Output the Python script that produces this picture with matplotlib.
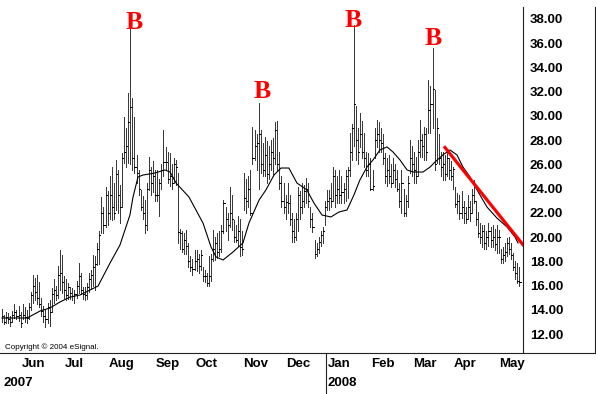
import matplotlib
matplotlib.use("Agg")
import matplotlib.pyplot as plt
from matplotlib.lines import Line2D
import numpy as np

# ---------------- data (daily bars, May-2007 .. May-2008) ----------------
months = ["Jun", "Jul", "Aug", "Sep", "Oct", "Nov", "Dec", "Jan", "Feb", "Mar", "Apr", "May"]
bars_per_month = [10, 21, 21, 23, 19, 23, 21, 20, 21, 20, 20, 22, 10]   # first = late May 2007
years = ["2007", "2008"]

highs = [
    14.1,13.6,13.8,13.7,13.5,13.9,14.5,14.0,14.3,13.8,
    14.5,14.2,14.0,14.6,15.5,16.9,16.6,16.9,16.3,15.0,14.3,14.0,14.6,14.8,15.8,16.5,16.0,17.6,18.9,18.5,16.8,
    16.5,16.2,15.9,15.8,15.6,16.4,17.9,17.0,15.9,15.9,16.2,17.0,17.3,18.5,18.4,19.5,20.5,23.3,22.5,24.1,23.8,
    25.0,25.8,24.5,26.4,25.5,24.3,26.9,29.9,29.0,31.9,37.5,31.5,29.9,26.8,25.5,23.9,23.4,23.1,24.5,26.6,25.8,26.3,25.5,
    25.5,24.8,26.0,28.8,27.4,27.0,26.9,26.0,26.5,26.4,25.3,20.7,20.5,20.3,20.6,19.5,18.4,18.2,18.9,
    18.9,18.6,18.9,17.5,17.3,17.0,18.4,18.6,20.6,20.0,20.3,20.5,21.0,23.1,22.5,22.0,24.1,23.5,21.4,21.0,21.7,21.5,20.5,
    25.3,24.8,25.0,25.5,29.1,28.8,28.5,31.1,28.8,27.8,28.3,27.9,27.5,28.0,28.2,29.5,29.6,27.0,25.0,24.5,23.5,
    24.5,23.5,22.0,21.5,22.0,24.1,23.8,24.5,24.3,24.9,24.5,22.5,22.0,19.8,19.5,20.0,20.5,20.8,23.0,23.9,
    23.9,24.5,25.8,25.5,25.0,25.5,25.0,24.5,25.5,25.8,28.6,29.3,37.5,30.8,29.0,30.2,29.6,28.6,27.0,26.9,26.5,
    25.5,29.0,29.7,29.5,29.0,28.5,26.9,26.5,26.8,26.0,26.5,26.0,25.5,24.5,25.5,24.0,23.5,25.0,28.0,27.5,
    27.0,26.6,28.0,29.7,28.5,29.1,29.0,33.0,32.5,35.6,32.1,29.8,28.5,27.0,27.0,26.8,27.0,26.5,26.3,25.8,
    24.1,23.6,23.5,23.8,23.0,22.5,23.5,23.0,24.0,24.7,23.0,22.1,21.2,21.0,21.0,20.5,21.2,20.8,21.0,20.7,21.0,20.6,
    19.0,19.2,19.5,19.9,20.0,19.5,18.7,18.0,17.9,17.5,
]
lows = [
    13.0,12.8,12.9,12.9,12.7,13.0,13.3,13.2,13.1,12.6,
    13.2,13.0,12.9,13.2,14.0,14.6,14.8,14.5,14.2,13.5,13.0,12.6,12.9,12.7,13.8,14.6,14.8,15.0,15.6,15.4,15.0,
    14.8,14.9,14.9,14.8,14.6,15.0,15.4,15.3,14.9,14.8,14.9,15.5,15.8,16.0,15.6,17.7,17.8,20.3,20.3,20.8,21.0,
    21.5,21.4,21.5,22.2,22.0,21.2,22.5,26.1,25.8,26.1,26.0,25.5,25.3,24.5,23.5,22.2,21.5,20.3,20.6,23.9,23.5,23.7,23.0,
    23.0,21.7,24.0,25.0,25.5,24.5,24.2,24.0,24.5,24.3,19.5,19.0,18.8,18.6,18.6,17.5,17.2,16.9,17.3,
    17.2,17.0,17.3,16.4,16.3,16.0,16.0,16.4,18.0,18.1,18.3,18.4,18.8,20.3,20.5,19.8,20.8,20.6,19.6,19.6,19.3,18.4,18.5,
    22.2,22.0,22.5,21.8,26.0,26.4,25.5,24.0,25.3,25.0,25.0,24.5,24.8,25.5,25.0,26.0,25.5,24.0,22.5,22.0,21.5,
    22.0,21.0,19.6,19.6,19.8,20.5,21.5,22.0,22.5,22.8,22.5,20.8,20.4,18.3,18.4,18.7,19.3,19.5,21.0,22.2,
    22.2,22.5,23.0,22.5,22.8,22.8,22.8,22.8,23.0,23.2,25.0,26.4,27.5,26.4,26.0,27.4,26.5,25.8,25.0,25.0,23.9,
    23.9,26.5,27.4,27.0,27.0,26.0,24.5,24.2,24.5,24.1,24.5,24.1,23.8,22.5,22.0,21.7,21.7,22.5,25.3,25.0,
    24.5,24.5,25.0,26.6,26.6,26.4,26.4,28.6,28.6,29.0,25.5,26.1,26.0,25.0,24.7,24.7,25.0,24.8,24.7,24.0,
    22.5,22.0,21.5,21.6,21.2,21.2,21.5,21.3,22.0,22.8,21.0,20.0,19.5,19.2,19.0,19.0,19.3,19.2,19.2,18.9,18.7,18.7,
    17.9,17.9,18.0,18.4,18.6,18.2,17.3,16.5,16.2,16.0,
]
closes = [
    13.5,13.0,13.4,13.2,13.0,13.6,13.8,13.5,13.6,12.9,
    13.6,13.4,13.3,14.2,15.2,16.0,15.5,15.0,14.5,13.9,13.5,13.2,14.2,13.8,15.3,15.6,15.2,16.9,17.0,16.3,15.6,
    15.2,15.9,15.4,15.1,15.3,16.0,16.8,15.6,15.3,15.2,15.9,16.5,16.9,17.5,17.8,19.0,20.2,22.0,21.0,23.5,22.0,
    23.5,22.5,22.0,25.2,23.5,22.5,26.5,27.0,27.5,29.5,30.7,26.5,25.8,25.3,24.0,22.5,22.0,21.0,24.0,25.5,24.5,25.0,23.5,
    23.5,24.5,25.5,26.2,26.2,24.8,25.0,24.5,26.0,25.8,20.4,20.3,19.0,19.8,19.3,18.0,17.5,17.4,18.0,
    18.2,17.6,18.5,16.8,16.8,16.2,16.8,18.2,19.0,19.5,18.8,19.0,20.5,22.8,21.5,21.0,22.0,21.5,20.0,19.8,20.5,19.2,19.0,
    23.2,23.0,24.0,22.0,26.5,27.5,27.8,28.5,26.0,25.5,26.8,25.2,26.0,27.0,26.5,28.8,26.0,24.5,23.0,22.5,22.9,
    22.8,21.5,20.5,20.0,21.5,23.5,22.5,23.0,23.8,24.0,23.0,21.5,20.8,18.6,19.0,19.6,20.2,20.5,22.5,23.0,
    23.2,23.0,25.0,23.5,24.0,23.5,23.7,24.0,25.0,25.5,27.0,29.0,31.0,28.0,27.0,28.5,27.0,26.5,25.5,26.0,24.0,
    24.2,28.0,28.5,28.0,27.8,26.5,25.0,25.5,25.0,24.5,25.5,24.8,24.0,23.0,24.5,22.0,23.0,24.5,26.5,26.0,
    25.5,25.0,27.0,28.0,27.5,28.5,27.0,30.5,31.0,32.2,26.0,29.0,26.5,25.8,26.0,25.2,26.5,25.5,25.0,25.6,
    22.7,23.0,22.0,22.5,22.0,21.5,22.5,22.0,23.5,23.0,21.5,20.3,20.0,20.5,19.5,20.0,20.5,19.8,20.0,19.4,20.0,20.0,
    18.2,18.5,18.8,19.5,19.0,18.5,17.5,17.0,16.4,16.3,
]

# moving-average line (bar index, value)
ma_idx = [0,12.1,18.4,23.2,28.0,32.9,37.7,42.5,46.4,52.2,57.0,61.8,63.3,65.7,68.1,73.9,78.7,81.2,84.1,
          90.3,97.1,101.0,103.4,106.8,111.6,116.4,119.3,124.2,127.5,131.4,134.8,138.6,142.5,147.3,150.7,
          154.6,158.9,162.8,166.7,170.0,172.9,176.3,179.2,182.6,186.0,188.9,192.3,195.7,198.6,203.4,206.8,
          209.2,213.0,216.4,219.8,222.7,226.1,229.5,234.3,239.1,244.0,247.8,249.3]
ma_val = [13.32,13.32,13.90,14.15,14.64,15.05,15.22,15.63,15.96,17.86,19.35,21.82,23.31,24.96,25.12,25.29,
          25.54,25.37,24.46,23.31,21.16,19.18,18.36,18.11,18.77,19.51,21.16,23.06,23.89,25.12,25.70,25.70,
          24.46,23.89,22.81,21.82,21.66,22.07,22.24,23.47,24.71,25.78,26.36,27.19,27.44,27.02,26.36,25.54,
          25.37,25.37,25.78,26.20,26.78,27.19,26.78,25.78,24.96,23.89,22.48,21.57,20.83,20.01,19.51]

# "B" marks (bar index, baseline value) and red trend line end points
b_idx = [63.8, 125.6, 169.6, 208.2]
b_val = [37.18, 31.48, 37.34, 35.85]
trend_idx = [213.5, 252.2]
trend_val = [27.5, 19.26]

yticks = [12, 14, 16, 18, 20, 22, 24, 26, 28, 30, 32, 34, 36, 38]

# ---------------- figure ----------------
W, H = 596, 394
fig = plt.figure(figsize=(W / 100, H / 100), dpi=100)
fig.patch.set_facecolor("white")
ax = fig.add_axes([0, 41 / H, 523 / W, 346 / H])
ax.set_facecolor("white")

n = len(highs)
x = np.arange(n)
ax.vlines(x, lows, highs, colors="#3a3a3a", linewidth=0.72, antialiased=False)
ax.hlines(closes, x, x + 0.55, colors="black", linewidth=0.72, antialiased=False)

ax.plot(ma_idx, ma_val, color="black", linewidth=0.8)
ax.plot(trend_idx, trend_val, color="#ff0000", linewidth=2.3, solid_capstyle="butt")

for bi, bv in zip(b_idx, b_val):
    ax.text(bi, bv, "B", color="#ff0000", fontsize=18.5, fontweight="bold",
            family="Liberation Serif", ha="center", va="baseline")

ax.set_xlim(-0.97, 251.7)
ax.set_ylim(10.432, 38.99)

ax.yaxis.tick_right()
ax.set_yticks(yticks)
ax.set_yticklabels([f"{v:.2f}" for v in yticks])
ax.tick_params(axis="y", length=0, pad=5, labelsize=9.5)
for lab in ax.get_yticklabels():
    lab.set_fontweight("bold")
    lab.set_family("Liberation Sans")
ax.set_xticks([])
for s in ["top", "left", "bottom"]:
    ax.spines[s].set_visible(False)
ax.spines["right"].set_color("#222222")
ax.spines["right"].set_linewidth(0.8)

# month labels
starts = np.cumsum(bars_per_month)[:-1]
trans = ax.get_xaxis_transform()
for m, s in zip(months, starts):
    ax.text(s - 0.6, -0.032, m, transform=trans, ha="left", va="center",
            fontsize=9.5, fontweight="bold", family="Liberation Sans", clip_on=False)

jan_idx = starts[months.index("Jan")]
div_x = (2 + 2.07 * (jan_idx - 1.6)) / W

fig.text(3 / W, 1 - 383 / H, years[0], ha="left", va="center", fontsize=9.5,
         fontweight="bold", family="Liberation Sans")
fig.text(div_x + 2 / W, 1 - 383 / H, years[1], ha="left", va="center", fontsize=9.5,
         fontweight="bold", family="Liberation Sans")
fig.text(5 / W, 1 - 347 / H, "Copyright \u00a9 2004 eSignal.", ha="left", va="center",
         fontsize=5.8, family="Liberation Sans", color="black")

# frame lines
yb = 1 - 353 / H
fig.add_artist(Line2D([0, 595 / W], [yb, yb], transform=fig.transFigure, color="#222222", lw=0.8))
fig.add_artist(Line2D([595 / W, 595 / W], [yb, 1 - 7 / H], transform=fig.transFigure, color="#222222", lw=0.8))
fig.add_artist(Line2D([div_x, div_x], [0, yb], transform=fig.transFigure, color="#222222", lw=0.8))

fig.savefig("out.png", dpi=100, facecolor="white")
